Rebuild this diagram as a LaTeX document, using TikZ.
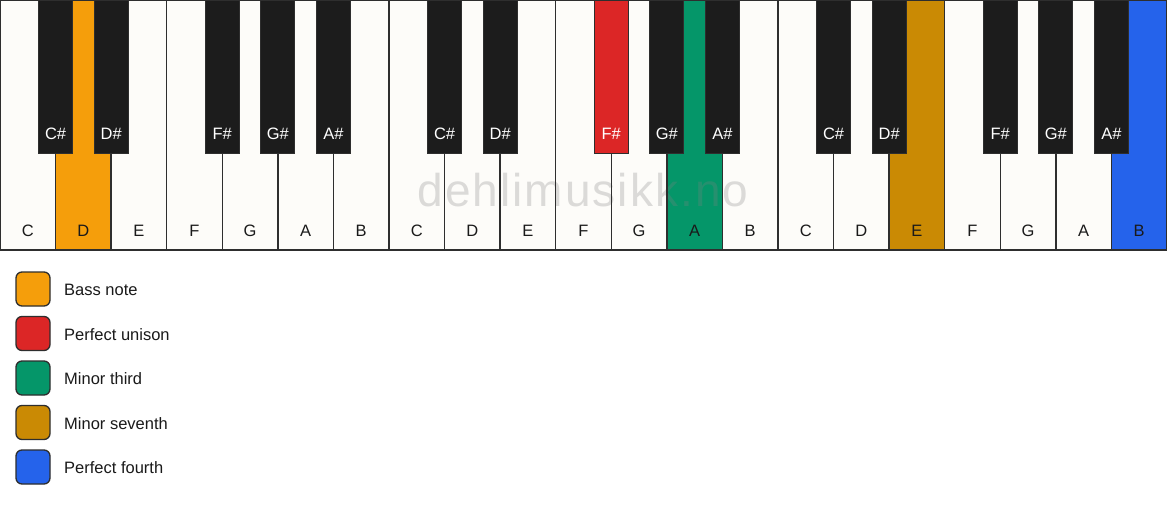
\documentclass[tikz,border=0pt]{standalone}
\usepackage{fontspec}
\setmainfont{Liberation Sans}
\newfontfamily\wmfont[LetterSpace=4.4]{Liberation Sans}
\definecolor{whitekey}{HTML}{FDFCF9}
\definecolor{blackkey}{HTML}{1C1C1C}
\definecolor{keyline}{HTML}{2E2E2E}
\definecolor{cbass}{HTML}{F59E0B}
\definecolor{cunison}{HTML}{DC2626}
\definecolor{cthird}{HTML}{059669}
\definecolor{cseventh}{HTML}{CA8A04}
\definecolor{cfourth}{HTML}{2563EB}
\definecolor{labeltext}{HTML}{1A1A1A}
\tikzset{
  wkey/.style={draw=keyline, line width=1.3pt, minimum width=55.571pt, minimum height=250pt, inner sep=0pt, outer sep=0pt, anchor=north west},
  keyedge/.style={draw=keyline, line width=1.3pt},
  bkey/.style={draw=keyline, line width=1pt, minimum width=34pt, minimum height=153.5pt, inner sep=0pt, outer sep=0pt, anchor=north},
  keyfont/.style={font=\fontsize{16.5}{16.5}\selectfont},
  wlabel/.style={keyfont, text=labeltext, anchor=base, inner sep=0pt},
  blabel/.style={keyfont, text=white, anchor=base, inner sep=0pt},
  legbox/.style={draw=keyline, line width=1.3pt, rounded corners=6pt, minimum width=34pt, minimum height=34pt, inner sep=0pt},
  legtext/.style={keyfont, text=labeltext, anchor=base west, inner sep=0pt},
  watermark/.style={font=\wmfont\fontsize{46}{46}\selectfont, text=gray, text opacity=0.27, anchor=base, inner sep=0pt}
}
\begin{document}
\begin{tikzpicture}[x=1pt,y=-1pt]
\useasboundingbox (0,0) rectangle (1167,506);
\fill[white] (0,0) rectangle (1167,506);
% white keys
\foreach \i/\n/\c in {0/C/whitekey,1/D/cbass,2/E/whitekey,3/F/whitekey,4/G/whitekey,5/A/whitekey,6/B/whitekey,
  7/C/whitekey,8/D/whitekey,9/E/whitekey,10/F/whitekey,11/G/whitekey,12/A/cthird,13/B/whitekey,
  14/C/whitekey,15/D/whitekey,16/E/cseventh,17/F/whitekey,18/G/whitekey,19/A/whitekey,20/B/cfourth}{
  \node[wkey, fill=\c] (w\i) at ({\i*55.571},0) {};
  \node[wlabel] (wl\i) at ({(\i+0.5)*55.571},236.5) {\n};
}
% watermark (under the key edges)
\node[watermark] (wm) at (583,206.7) {dehlimusikk.no};
\foreach \i in {7,...,14}{
  \draw[keyedge] (w\i.north west) rectangle (w\i.south east);
}
% black keys
\foreach \i/\n/\c in {0/C\#/blackkey,1/D\#/blackkey,3/F\#/blackkey,4/G\#/blackkey,5/A\#/blackkey,
  7/C\#/blackkey,8/D\#/blackkey,10/F\#/cunison,11/G\#/blackkey,12/A\#/blackkey,
  14/C\#/blackkey,15/D\#/blackkey,17/F\#/blackkey,18/G\#/blackkey,19/A\#/blackkey}{
  \node[bkey, fill=\c] (b\i) at ({(\i+1)*55.571},0) {};
  \node[blabel] (bl\i) at ({(\i+1)*55.571},139.3) {\n};
}
% legend
\foreach \k/\c/\t in {0/cbass/Bass note,1/cunison/Perfect unison,2/cthird/Minor third,3/cseventh/Minor seventh,4/cfourth/Perfect fourth}{
  \node[legbox, fill=\c] (lb\k) at (33,{289+\k*44.5}) {};
  \node[legtext] (lt\k) at (64,{295.5+\k*44.5}) {\t};
}
\end{tikzpicture}
\end{document}
